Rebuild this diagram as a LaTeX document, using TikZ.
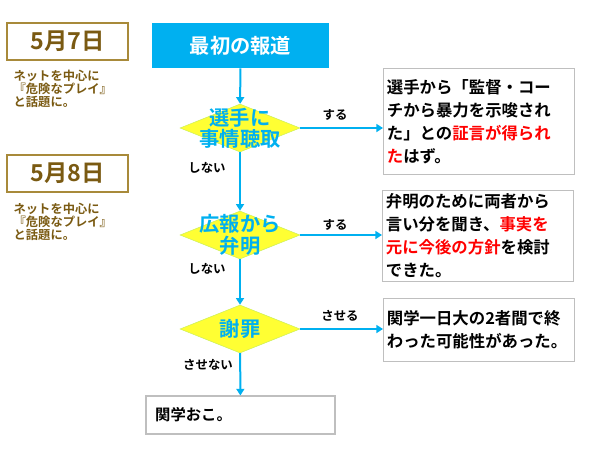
\documentclass[tikz,border=0pt]{standalone}
\usepackage{fontspec}
\newfontfamily\cjk{Noto Sans CJK JP Bold}
\usetikzlibrary{shapes.geometric,arrows.meta}
\definecolor{brn}{HTML}{7A5A12}
\definecolor{gld}{HTML}{A88A3A}
\definecolor{sky}{HTML}{00B0F0}
\definecolor{ylw}{HTML}{FFFF33}
\begin{document}
\begin{tikzpicture}[x=0.75pt,y=-0.75pt,
 date/.style={draw=gld,line width=0.9pt,minimum width=90.75pt,minimum height=27.75pt,font=\cjk\fontsize{17.5}{17.5}\selectfont,text=brn},
 note/.style={anchor=north west,align=left,font=\cjk\fontsize{9.2}{10}\selectfont,text=brn},
 dia/.style={diamond,aspect=2.5,fill=ylw,draw=ylw!80!sky,minimum width=90pt,minimum height=36pt,inner sep=0pt},
 dtxt/.style={font=\cjk\fontsize{15.2}{16}\selectfont,text=sky,align=center},
 res/.style={draw=black!25,line width=0.8pt,anchor=north west,align=left,inner sep=2.5pt,text width=138pt,font=\cjk\fontsize{12.3}{17.2}\selectfont},
 arr/.style={draw=sky,line width=1.5pt,-{Triangle[length=5pt,width=6pt]}},
 lab/.style={font=\cjk\fontsize{9.3}{9.3}\selectfont}]
\useasboundingbox (0,0) rectangle (600,450);
\node[date] (d1) at (67.5,41.5) {5月7日};
\node[note] (n1) at (9,65) {ネットを中心に\\『危険なプレイ』\\と話題に。};
\node[date] (d2) at (67.5,173.5) {5月8日};
\node[note] (n2) at (9,198) {ネットを中心に\\『危険なプレイ』\\と話題に。};
\node[fill=sky,minimum width=132.75pt,minimum height=33.75pt,text=white,font=\cjk\fontsize{15.2}{15}\selectfont] (top) at (240.5,45.5) {最初の報道};
\node[dia] (q1) at (240,128) {};
\node[dtxt] at (240,128) {選手に\\事情聴取};
\node[dia] (q2) at (240,235) {};
\node[dtxt] at (240,235) {広報から\\弁明};
\node[dia] (q3) at (240,329) {};
\node[dtxt] at (240,329) {謝罪};
\node[draw=black!25,line width=0.8pt,minimum width=141.75pt,minimum height=28.5pt,font=\cjk\fontsize{11.5}{12}\selectfont,text width=128pt,align=left] (end) at (240.5,415) {関学おこ。};
\node[res,minimum height=79.5pt] (r1) at (383,68) {選手から「監督・コー\\チから暴力を示唆され\\た」との\textcolor{red}{証言が得られ}\\\textcolor{red}{た}はず。};
\node[res,minimum height=68pt] (r2) at (382,190) {弁明のために両者から\\言い分を聞き、\textcolor{red}{事実を}\\\textcolor{red}{元に今後の方針}を検討\\できた。};
\node[res,minimum height=47pt] (r3) at (383,298) {関学一日大の2者間で終\\わった可能性があった。};
\draw[arr] (top) -- (q1);
\draw[arr] (q1) -- (q2);
\draw[arr] (q2) -- (q3);
\draw[arr] (q3) -- (end);
\draw[arr] (q1.east) -- (q1.east -| r1.west);
\draw[arr] (q2.east) -- (q2.east -| r2.west);
\draw[arr] (q3.east) -- (q3.east -| r3.west);
\node[lab] at (207,168) {しない};
\node[lab] at (207,269) {しない};
\node[lab] at (208,365) {させない};
\node[lab] at (335,115) {する};
\node[lab] at (335,225) {する};
\node[lab] at (340,316) {させる};
\end{tikzpicture}
\end{document}
